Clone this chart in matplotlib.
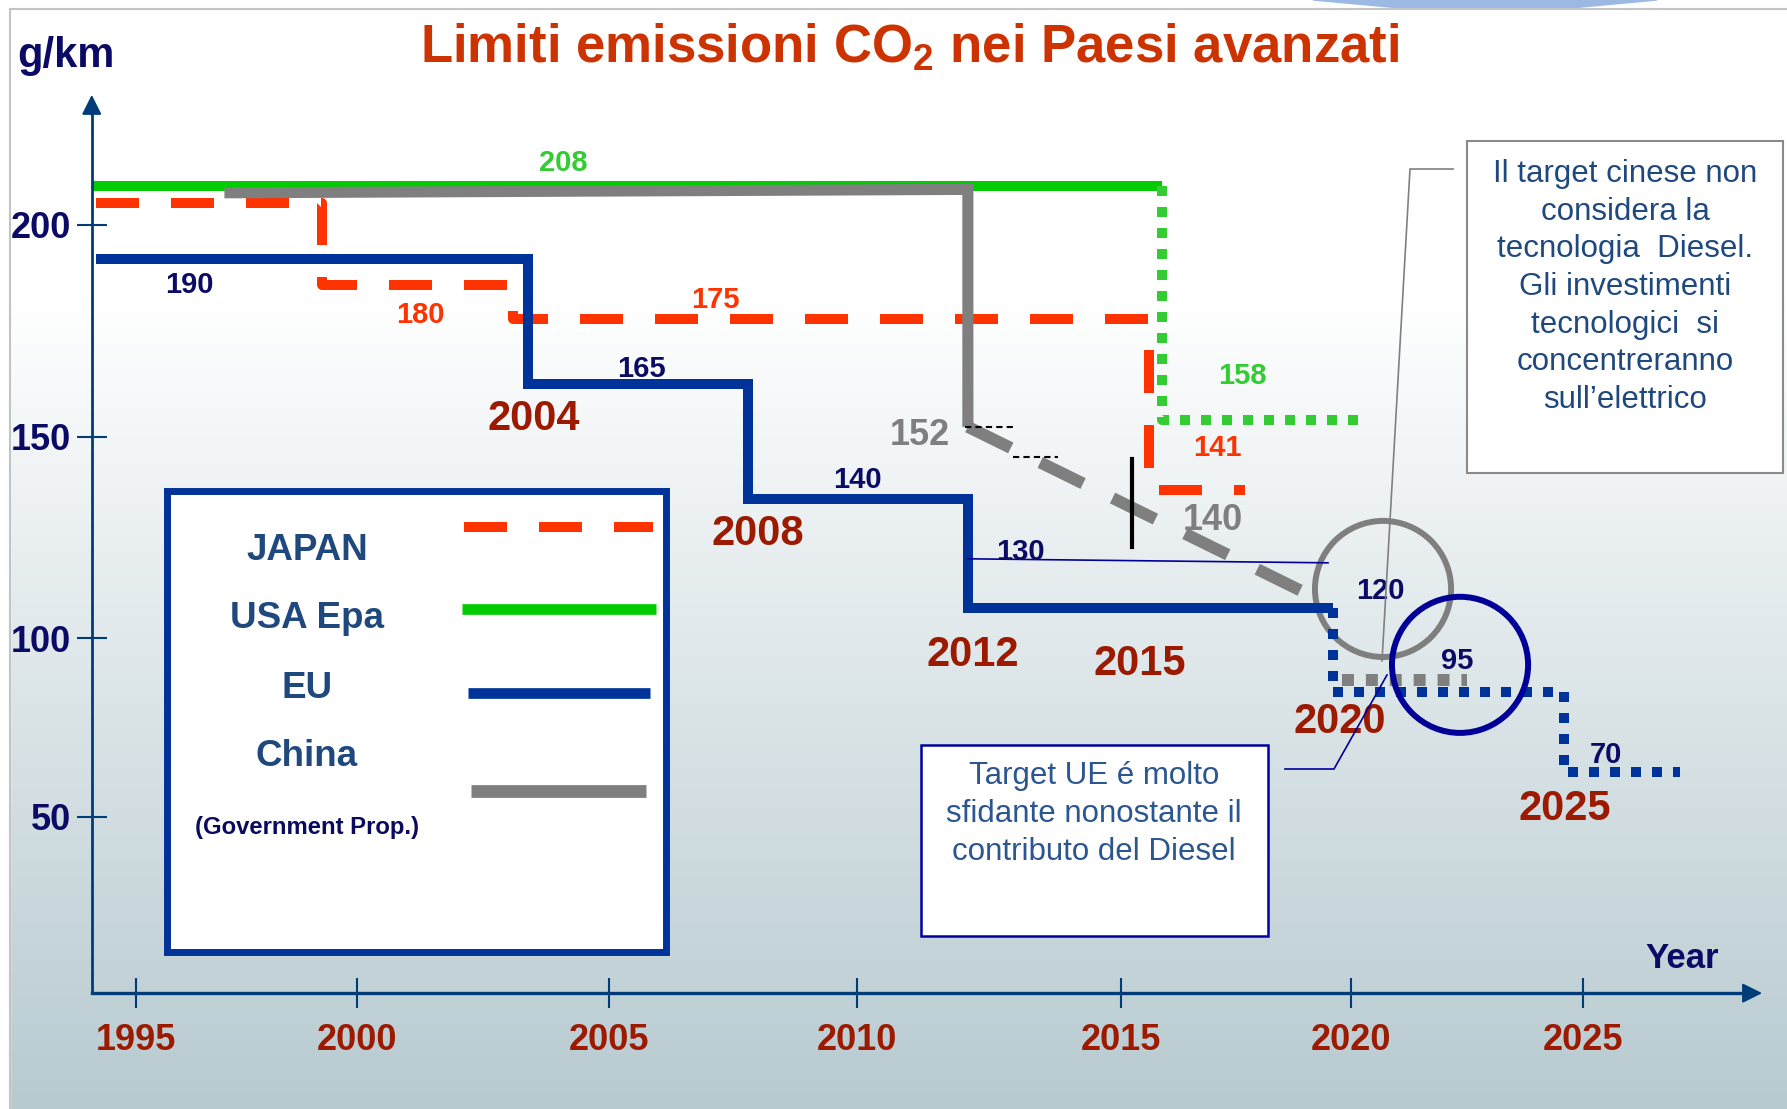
import matplotlib
matplotlib.use('Agg')
import matplotlib.pyplot as plt
import numpy as np
from matplotlib.patches import Rectangle, Polygon
from matplotlib.lines import Line2D

plt.rcParams['font.family'] = ['Liberation Sans', 'DejaVu Sans']
plt.rcParams['mathtext.fontset'] = 'custom'
plt.rcParams['mathtext.rm'] = 'Liberation Sans:bold'
plt.rcParams['mathtext.default'] = 'rm'

W, H = 1787, 1109

# ---- data (g/km CO2 limits) ----
usa_years = [1994.0, 2015.9]
usa_vals = [209.1, 209.1]
usa_target_years = [2015.9, 2015.9, 2020.25]
usa_target_vals = [209.1, 154.0, 154.0]

japan_years = [1994.1, 1999.2, 1999.2, 2003.1, 2003.1, 2015.6, 2015.6, 2017.7]
japan_vals = [205.1, 205.1, 185.8, 185.8, 177.8, 177.8, 136.8, 136.8]

eu_years = [1994.1, 2003.4, 2003.4, 2007.8, 2007.8, 2012.1, 2012.1, 2019.6]
eu_vals = [191.9, 191.9, 162.4, 162.4, 134.5, 134.5, 107.5, 107.5]
eu_target_years = [2019.6, 2019.6, 2024.6, 2024.6, 2027.1]
eu_target_vals = [107.5, 84.9, 84.9, 62.6, 62.6]
eu_2015_years = [2012.1, 2019.5]
eu_2015_vals = [119.7, 118.7]

china_years = [1997.0, 2012.1, 2012.1]
china_vals = [207.6, 208.4, 152.4]
china_trend_years = [2012.1, 2019.1]
china_trend_vals = [152.4, 110.7]
china_target_years = [2019.8, 2022.5]
china_target_vals = [88.3, 88.3]

x_ticks = [1995, 2000, 2005, 2010, 2015, 2020, 2025]
y_ticks = [50, 100, 150, 200]

value_labels = [('208', 2004.1, 215.3, 'usa'), ('190', 1996.2, 186.6, 'eu'),
                ('180', 2001.25, 179.5, 'japan'), ('175', 2007.15, 183.0, 'japan'),
                ('165', 2005.66, 166.7, 'eu'), ('140', 2010.0, 140.0, 'eu'),
                ('152', 2011.2, 151.2, 'china'), ('130', 2013.1, 122.1, 'eu'),
                ('158', 2017.63, 165.1, 'usa'), ('141', 2017.1, 148.1, 'japan'),
                ('140', 2017.0, 130.1, 'china'), ('120', 2020.63, 112.4, 'eu'),
                ('95', 2022.28, 94.4, 'eu'), ('70', 2025.5, 68.2, 'eu')]
year_labels = [('2004', 2003.5, 155.2), ('2008', 2008.0, 127.1), ('2012', 2012.2, 96.6),
               ('2015', 2015.4, 93.9), ('2020', 2019.75, 77.9), ('2025', 2024.6, 53.4)]

# hand drawn axes of the slide: tick spacing is not uniform
year_ref = [1980, 1995, 2000, 2005, 2010, 2015, 2020, 2025, 2040]
year_pos = [-528, 136, 357, 609, 857, 1121, 1351, 1583, 2279]
gkm_ref = [-100, 50, 100, 150, 200, 400]
gkm_pos = [-1354, -817, -638, -437, -225, 623]


def fwd_x(v):
    return np.interp(v, year_ref, year_pos)


def inv_x(p):
    return np.interp(p, year_pos, year_ref)


def fwd_y(v):
    return np.interp(v, gkm_ref, gkm_pos)


def inv_y(p):
    return np.interp(p, gkm_pos, gkm_ref)


GREEN = '#00cc00'
GREEN_DOT = '#33cc33'
JAPAN = '#ff3300'
EU = '#003399'
CHINA = '#7f7f7f'
NAVY = '#0b0b66'
DARKRED = '#9b1a00'
AXIS = '#003c78'
label_colors = {'usa': GREEN_DOT, 'japan': JAPAN, 'eu': NAVY, 'china': CHINA}
label_sizes = {'usa': 21, 'japan': 21, 'eu': 21, 'china': 26}

fig = plt.figure(figsize=(W / 100, H / 100), dpi=100)


def fx(px):
    return px / W


def fy(py):
    return 1 - py / H


# background gradient of the slide
bg = fig.add_axes([0, 0, 1, 1], zorder=-5)
t = np.clip((np.arange(H) - 300) / (H - 300), 0, 1)
top = np.array([1.0, 1.0, 1.0])
bottom = np.array([183, 202, 208]) / 255
grad = top[None, :] * (1 - t[:, None]) + bottom[None, :] * t[:, None]
bg.imshow(grad[:, None, :], aspect='auto', extent=[0, 1, 0, 1])
bg.add_patch(Rectangle((0, 0), fx(10), 1, color='white', transform=bg.transAxes))
bg.set_axis_off()

fig.add_artist(Line2D([fx(10), fx(10)], [0, fy(9)], color='#c4c4c4', lw=1.5))
fig.add_artist(Line2D([fx(10), 1], [fy(9), fy(9)], color='#c4c4c4', lw=1.5))
fig.add_artist(Polygon([(fx(1313), 1), (fx(1657), 1), (fx(1560), fy(9)), (fx(1400), fy(8))],
                       closed=True, color='#9bb9e2', transform=fig.transFigure))

ax = fig.add_axes([0, 0, 1, 1])
ax.patch.set_alpha(0)
ax.set_xscale('function', functions=(fwd_x, inv_x))
ax.set_yscale('function', functions=(fwd_y, inv_y))
ax.set_xlim(inv_x(0), inv_x(W))
ax.set_ylim(inv_y(-H), inv_y(0))

# series
ax.plot(usa_years, usa_vals, color=GREEN, lw=7.2, solid_capstyle='butt', zorder=2)
ax.plot(usa_target_years, usa_target_vals, color=GREEN_DOT, lw=7.2,
        ls=(0, (1, 1.1)), dash_capstyle='butt', zorder=2)
ax.plot(japan_years, japan_vals, color=JAPAN, lw=7.2, ls=(0, (4.3, 3.2)),
        dash_capstyle='butt', zorder=3)
ax.plot(china_years, china_vals, color=CHINA, lw=8, solid_capstyle='butt',
        solid_joinstyle='miter', zorder=4)
ax.plot(china_trend_years, china_trend_vals, color=CHINA, lw=8.6, ls=(0, (4, 2.75)),
        dash_capstyle='butt', zorder=4)
ax.plot(china_target_years, china_target_vals, color=CHINA, lw=8.6, ls=(0, (1, 1)),
        dash_capstyle='butt', zorder=4)
ax.plot(eu_years, eu_vals, color=EU, lw=7.2, solid_capstyle='butt',
        solid_joinstyle='miter', zorder=5)
ax.plot(eu_target_years, eu_target_vals, color=EU, lw=7.2, ls=(0, (1, 1.1)),
        dash_capstyle='butt', zorder=5)
ax.plot(eu_2015_years, eu_2015_vals, color='#000099', lw=1.2, zorder=5)

# small guides around the chinese 2015 trend
ax.plot([2012.05, 2012.95], [152.3, 152.3], color='black', lw=1.5, ls=(0, (3, 2)), zorder=6)
ax.plot([2012.95, 2013.8], [145.1, 145.1], color='black', lw=1.5, ls=(0, (3, 2)), zorder=6)
ax.plot([2015.24, 2015.24], [144.6, 122.6], color='black', lw=3, zorder=6)

# highlight circles on the 2020 targets
ax.scatter([2020.69], [112.2], s=98 ** 2, facecolors='none', edgecolors=CHINA,
           linewidths=4.3, zorder=4)
ax.scatter([2022.35], [92.5], s=98 ** 2, facecolors='none', edgecolors='#000099',
           linewidths=4.3, zorder=6)

for txt, yr, val, key in value_labels:
    ax.text(yr, val, txt, color=label_colors[key], fontsize=label_sizes[key],
            fontweight='bold', ha='center', va='center_baseline', zorder=7)
for txt, yr, val in year_labels:
    ax.text(yr, val, txt, color=DARKRED, fontsize=30, fontweight='bold',
            ha='center', va='center_baseline', zorder=7)

# axes with arrows
for s in ['top', 'right']:
    ax.spines[s].set_visible(False)
ax.spines['left'].set_position(('data', 1994.0))
ax.spines['bottom'].set_position(('data', 0.8))
ax.spines['left'].set_bounds(0.8, 228)
ax.spines['bottom'].set_bounds(1994.0, 2028.4)
ax.spines['left'].set_color(AXIS)
ax.spines['bottom'].set_color(AXIS)
ax.spines['left'].set_linewidth(2)
ax.spines['bottom'].set_linewidth(2.4)
ax.annotate('', xy=(2028.86, 0.8), xytext=(2028.0, 0.8),
            arrowprops=dict(arrowstyle='-|>,head_length=0.6,head_width=0.3',
                            mutation_scale=20, color=AXIS, lw=1.5, shrinkA=0, shrinkB=0))
ax.annotate('', xy=(1994.0, 230.7), xytext=(1994.0, 226),
            arrowprops=dict(arrowstyle='-|>,head_length=0.6,head_width=0.3',
                            mutation_scale=20, color=AXIS, lw=1.5, shrinkA=0, shrinkB=0))

ax.set_xticks(x_ticks, labels=[str(v) for v in x_ticks], fontsize=26,
              fontweight='bold', color=DARKRED)
ax.set_yticks(y_ticks, labels=[str(v) for v in y_ticks], fontsize=26,
              fontweight='bold', color=NAVY)
ax.tick_params(axis='x', direction='inout', length=21, width=1.5, color=AXIS, pad=11)
ax.tick_params(axis='y', direction='inout', length=21.6, width=1.5, color=AXIS, pad=4)
ax.minorticks_off()

# title and axis names
fig.text(fx(910), fy(63), r'Limiti emissioni CO$_2$ nei Paesi avanzati', color='#cc3300',
         fontsize=38, fontweight='bold', ha='center', va='baseline')
fig.text(fx(17), fy(67), 'g/km', color=NAVY, fontsize=30, fontweight='bold',
         ha='left', va='baseline')
fig.text(fx(1682), fy(955), 'Year', color=NAVY, fontsize=25, fontweight='bold',
         ha='center', va='center_baseline')


def box(x0, y0, x1, y1, ec, lw):
    fig.add_artist(Rectangle((fx(x0), fy(y1)), fx(x1) - fx(x0), fy(y0) - fy(y1),
                             transform=fig.transFigure, fc='white', ec=ec, lw=lw,
                             joinstyle='miter', zorder=2))


def seg(xs, ys, **kw):
    fig.add_artist(Line2D([fx(v) for v in xs], [fy(v) for v in ys], zorder=3, **kw))


# legend
box(166.5, 490.5, 665.5, 951.5, EU, 5)
legend_names = ['JAPAN', 'USA Epa', 'EU', 'China']
legend_rows = [547, 615, 685, 753]
for name, row in zip(legend_names, legend_rows):
    fig.text(fx(307), fy(row), name, color='#1f497d', fontsize=26.5, fontweight='bold',
             ha='center', va='center_baseline', zorder=4)
fig.text(fx(307), fy(825), '(Government Prop.)', color='#0a0a5e', fontsize=17.2,
         fontweight='bold', ha='center', va='center_baseline', zorder=4)
seg([464, 653], [527, 527], color=JAPAN, lw=7.2, ls=(0, (4.3, 3.2)), dash_capstyle='butt')
seg([462, 656], [609, 609], color=GREEN, lw=7.7, solid_capstyle='butt')
seg([468, 650], [693, 693], color=EU, lw=7.7, solid_capstyle='butt')
seg([471, 646], [791, 791], color=CHINA, lw=9.2, solid_capstyle='butt')

# comment boxes
box(1467, 141, 1783, 473, '#8a8a8a', 1.5)
fig.text(fx(1625), fy(287),
         'Il target cinese non\nconsidera la\ntecnologia  Diesel.\nGli investimenti\n'
         'tecnologici  si\nconcentreranno\nsull\u2019elettrico',
         color='#1f497d', fontsize=22.5, ha='center', va='center', linespacing=1.33, zorder=4)
seg([1382, 1410, 1453], [661, 169, 169], color='#808080', lw=1.2)

box(921, 745, 1268, 936, '#0000a0', 1.8)
fig.text(fx(1094), fy(814), 'Target UE \u00e9 molto\nsfidante nonostante il\ncontributo del Diesel',
         color='#2b568f', fontsize=22.5, ha='center', va='center', linespacing=1.33, zorder=4)
seg([1285, 1334, 1387], [769, 769, 675], color='#000099', lw=1.2)

fig.savefig('out.png', dpi=100)
